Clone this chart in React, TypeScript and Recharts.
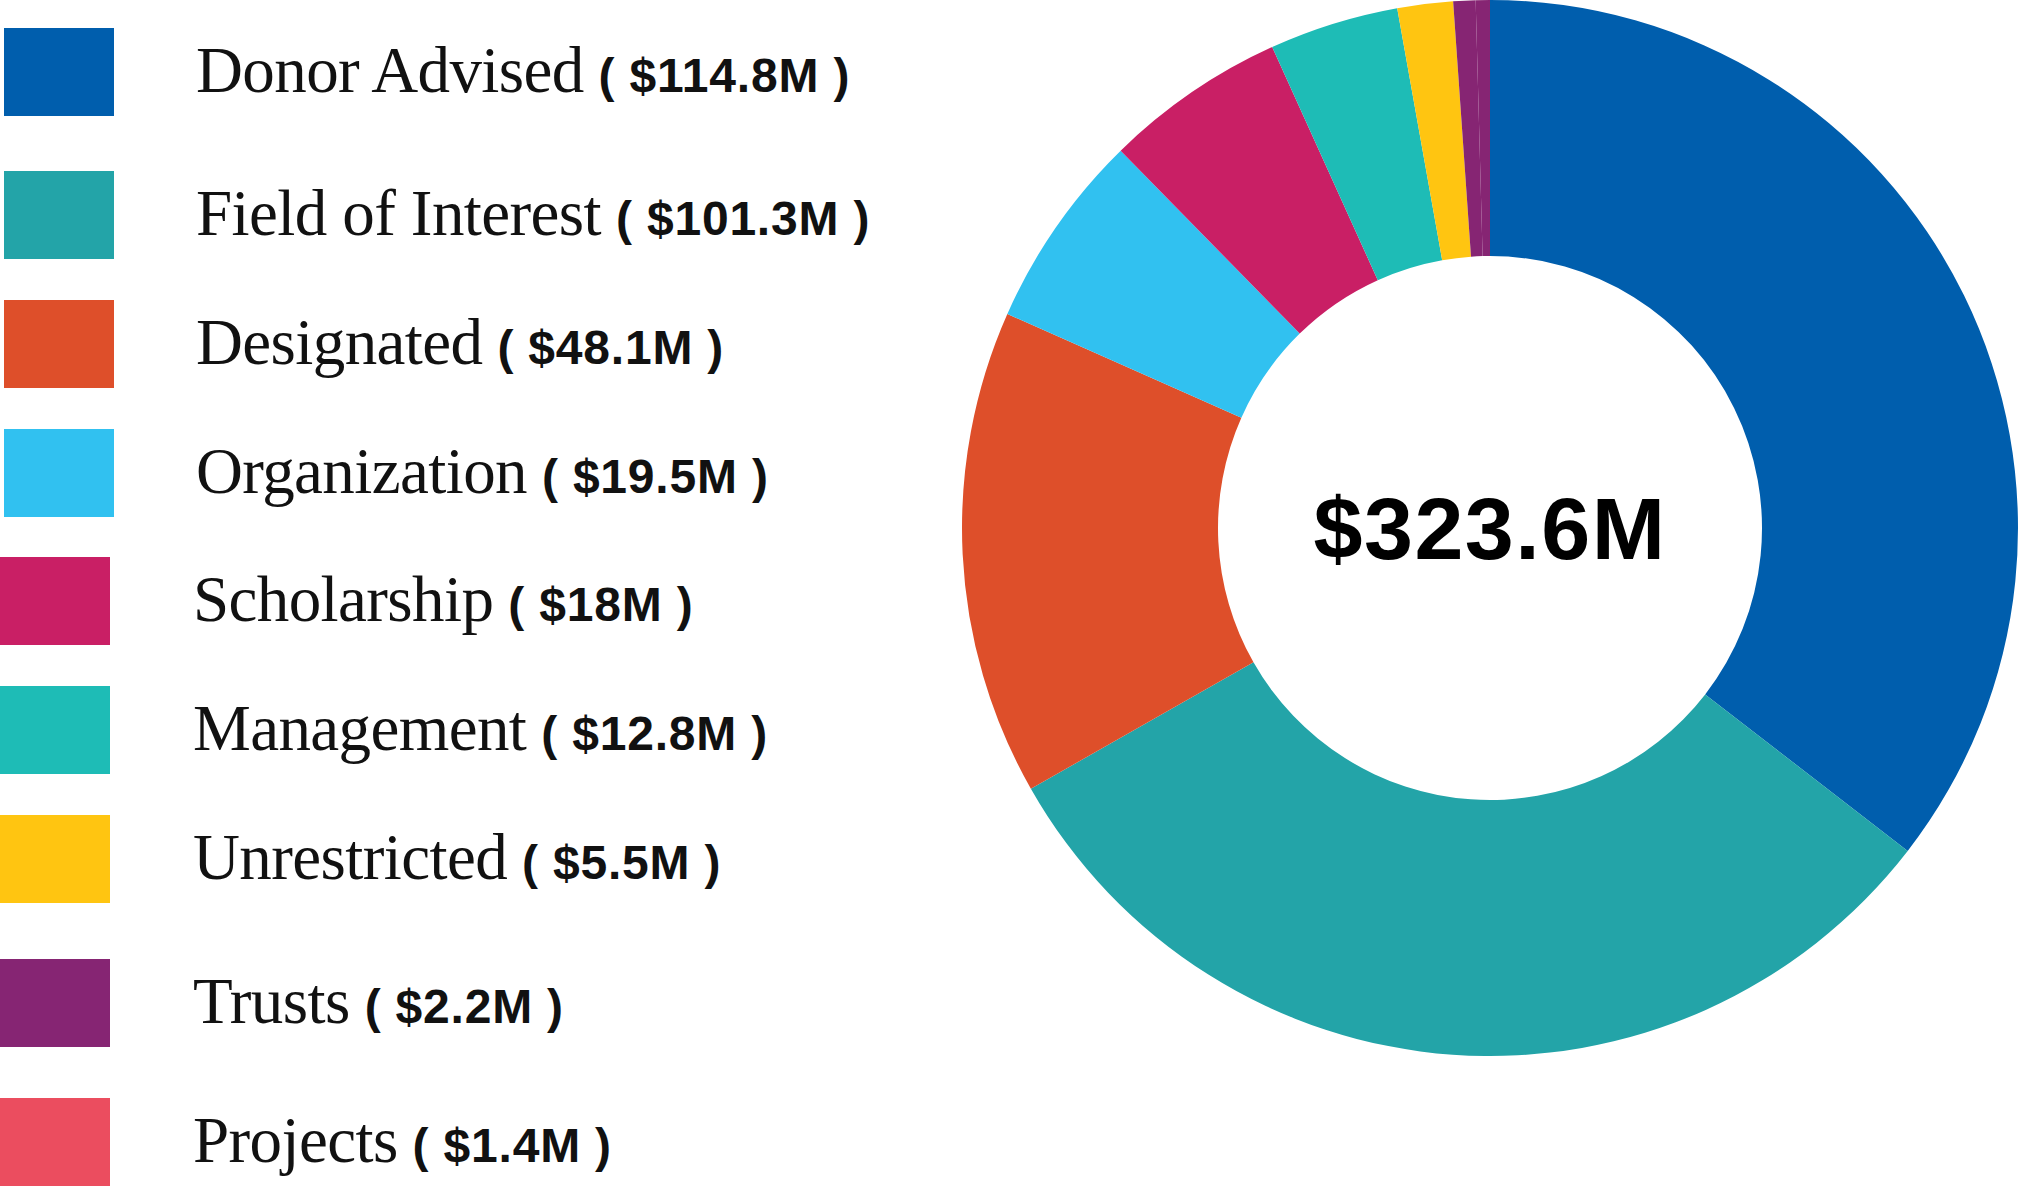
import React from 'react';
import { PieChart, Pie, Cell, Legend, Label } from 'recharts';

const categories = ['Donor Advised', 'Field of Interest', 'Designated', 'Organization', 'Scholarship', 'Management', 'Unrestricted', 'Trusts', 'Projects'];
const amounts = [114.8, 101.3, 48.1, 19.5, 18, 12.8, 5.5, 2.2, 1.4];
const amountLabels = ['$114.8M', '$101.3M', '$48.1M', '$19.5M', '$18M', '$12.8M', '$5.5M', '$2.2M', '$1.4M'];
const legendColors = ['#005EAD', '#23A4A8', '#DE4F2A', '#31C1F0', '#C91F65', '#1EBCB6', '#FFC511', '#862573', '#EB4D5F'];
// the reference ring shows the last sliver in the Trusts purple
const sliceColors = ['#005EAD', '#23A4A8', '#DE4F2A', '#31C1F0', '#C91F65', '#1EBCB6', '#FFC511', '#862573', '#862573'];
const totalLabel = '$323.6M';

const data = categories.map((name, i) => ({ name, value: amounts[i] }));

const PIE_CX = 1490;
const PIE_CY = 528;

// legend row tops, as laid out in the reference
const ROW_TOPS = [28, 171, 300, 429, 557, 686, 815, 959, 1098];

const renderLegend = () => (
    <div style={{ position: 'relative', width: 900, height: 1187 }}>
        {categories.map((name, i) => (
            <div key={name} style={{ position: 'absolute', left: 0, top: ROW_TOPS[i], height: 88, width: 900 }}>
                <div style={{ position: 'absolute', left: i < 4 ? 4 : 0, top: 0, width: 110, height: 88, background: legendColors[i] }} />
                <div style={{ position: 'absolute', left: i < 4 ? 196 : 193, top: -2, height: 88, whiteSpace: 'nowrap', lineHeight: '88px' }}>
                    <span style={{ fontFamily: '"Liberation Serif", serif', fontSize: 65, color: '#111', letterSpacing: -0.6 }}>{name}</span>
                    <span style={{ fontFamily: '"Liberation Sans", Arial, sans-serif', fontWeight: 700, fontSize: 48, color: '#111', marginLeft: 15, letterSpacing: 0.8 }}>( {amountLabels[i]} )</span>
                </div>
            </div>
        ))}
    </div>
);

const CenterLabel = () => (
    <text
        x={PIE_CX}
        y={PIE_CY}
        textAnchor="middle"
        dominantBaseline="central"
        fill="#000"
        fontSize={88}
        fontWeight={700}
        letterSpacing={1.5}
        fontFamily='"Liberation Sans", Arial, sans-serif'
    >
        {totalLabel}
    </text>
);

const App: React.FC = () => {
    return (
        <div style={{ position: 'absolute', left: 0, top: 0, width: 2019, height: 1187, background: '#fff' }}>
            <PieChart width={2019} height={1187} margin={{ top: 0, right: 0, bottom: 0, left: 0 }}>
                <Legend
                    layout="vertical"
                    align="center"
                    verticalAlign="middle"
                    content={renderLegend}
                    wrapperStyle={{ left: 0, top: 0, width: 900, height: 1187 }}
                />
                <Pie
                    data={data}
                    dataKey="value"
                    nameKey="name"
                    cx={PIE_CX}
                    cy={PIE_CY}
                    innerRadius={272}
                    outerRadius={528}
                    startAngle={90}
                    endAngle={-270}
                    stroke="none"
                    isAnimationActive={false}
                >
                    {data.map((d, i) => (
                        <Cell key={d.name} fill={sliceColors[i]} />
                    ))}
                    <Label content={<CenterLabel />} />
                </Pie>
            </PieChart>
        </div>
    );
};

export default App;
